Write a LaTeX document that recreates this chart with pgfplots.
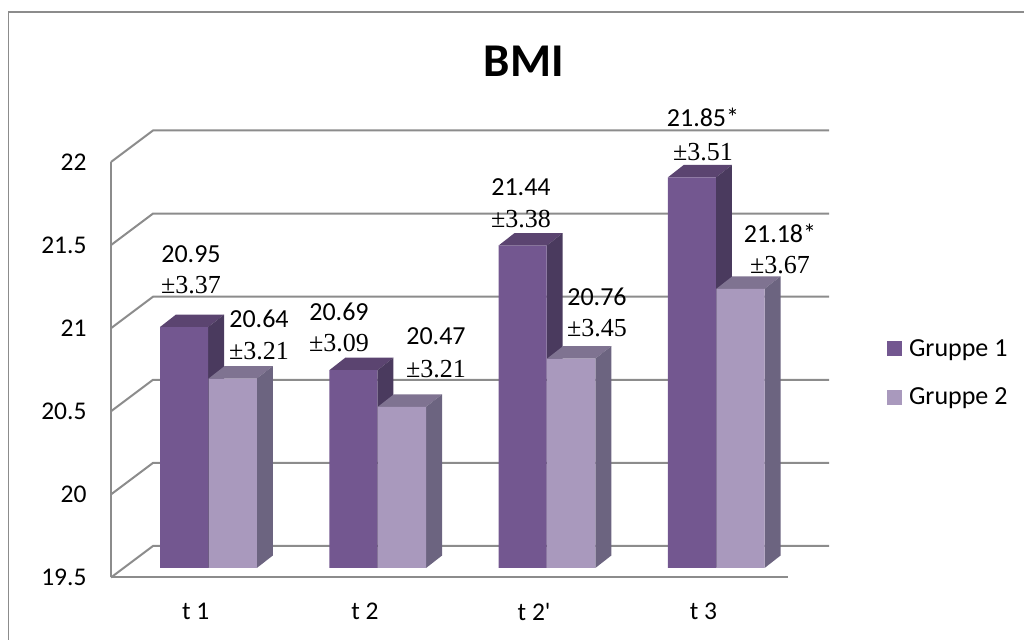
\documentclass[border=0pt]{standalone}
\usepackage{pgfplots}
\pgfplotsset{compat=1.18}
\usepackage{fontspec}
\setmainfont{Carlito}
\newfontfamily\timesf{Liberation Serif}

\definecolor{gonefront}{HTML}{735790}
\definecolor{gonetop}{HTML}{5B4470}
\definecolor{goneside}{HTML}{4A3A5E}
\definecolor{gtwofront}{HTML}{A999BD}
\definecolor{gtwotop}{HTML}{7F7391}
\definecolor{gtwoside}{HTML}{6C6480}
\definecolor{gridgrey}{HTML}{8C8C8C}

% 1px = 1pt; depth of the bars: 16px right, 12.5px up
\pgfmathsetmacro{\dx}{16/169.25}
\pgfmathsetmacro{\dy}{12.5/166.2}
\pgfmathsetmacro{\barw}{48.2/169.25}
\pgfmathsetmacro{\wx}{42/169.25}
\pgfmathsetmacro{\wy}{31.5/166.2}

% top and side face of one bar: category, offset of left edge, value, colours
\newcommand{\faces}[5]{%
  \pgfmathsetmacro{\xa}{#1+#2/169.25}%
  \pgfmathsetmacro{\xb}{\xa+\barw}%
  \pgfmathsetmacro{\xc}{\xa+\dx}%
  \pgfmathsetmacro{\xd}{\xb+\dx}%
  \pgfmathsetmacro{\yt}{#3+\dy}%
  \pgfmathsetmacro{\yb}{19.5+\dy}%
  \edef\temp{\noexpand\addplot[forget plot,fill=#4,draw=none,yshift=9.5pt]
    coordinates {(\xa,#3) (\xb,#3) (\xd,\yt) (\xc,\yt)} -- cycle;
    \noexpand\addplot[forget plot,fill=#5,draw=none,yshift=9.5pt]
    coordinates {(\xb,#3) (\xd,\yt) (\xd,\yb) (\xb,19.5)} -- cycle;}%
  \temp}

% back wall line and left wall diagonal for one y level
\newcommand{\wall}[1]{%
  \pgfmathsetmacro{\yw}{#1+\wy}%
  \pgfmathsetmacro{\xw}{-0.5+\wx}%
  \pgfmathsetmacro{\xe}{3.5+41/169.25}%
  \edef\temp{\noexpand\addplot[forget plot,gridgrey,line width=2pt]
    coordinates {(-0.5,#1) (\xw,\yw) (\xe,\yw)};}%
  \temp}

\begin{document}
\begin{tikzpicture}
\path[use as bounding box] (0,0) rectangle (1024pt,639pt);
\draw[gridgrey,line width=1.5pt] (8.5pt,-5pt) -- (8.5pt,627pt) -- (1030pt,627pt);

\begin{axis}[
  at={(111pt,61.5pt)},
  anchor=south west,
  scale only axis,
  width=677pt,
  height=415.5pt,
  clip=false,
  xmin=-0.5, xmax=3.5,
  ymin=19.5, ymax=22,
  axis x line=bottom,
  axis y line=left,
  axis line style={gridgrey,line width=2pt,-},
  xtick={0,1,2,3},
  xticklabels={t 1,t 2,t 2\textquotesingle,t 3},
  ytick={19.5,20,20.5,21,21.5,22},
  yticklabels={19.5,20,20.5,21,21.5,22},
  major tick length=0pt,
  tick label style={font=\fontsize{25.5}{30}\selectfont},
  yticklabel style={xshift=-21pt},
  xticklabel style={yshift=-22pt},
  title={BMI},
  title style={at={(0.61,1)},anchor=center,yshift=95pt,font=\fontsize{47}{54}\selectfont\bfseries},
  legend style={at={(1.146,0.493)},anchor=west,draw=none,inner sep=0pt,
    font=\fontsize{26}{30}\selectfont,row sep=26pt,
    /tikz/column 1/.style={column sep=5pt}},
]

\wall{19.5}
\wall{20}
\wall{20.5}
\wall{21}
\wall{21.5}
\wall{22}

\faces{0}{-35.6}{20.95}{gonetop}{goneside}
\faces{1}{-35.6}{20.69}{gonetop}{goneside}
\faces{2}{-35.6}{21.44}{gonetop}{goneside}
\faces{3}{-35.6}{21.85}{gonetop}{goneside}

\addplot[ybar,bar width=48.2pt,bar shift=-11.5pt,fill=gonefront,draw=none,yshift=9.5pt,
  legend image code/.code={\fill[gonefront] (0pt,-17.5pt) rectangle (15pt,-2.5pt);}]
  coordinates {(0,20.95) (1,20.69) (2,21.44) (3,21.85)};
\addlegendentry{Gruppe 1}

\faces{0}{13}{20.64}{gtwotop}{gtwoside}
\faces{1}{13}{20.47}{gtwotop}{gtwoside}
\faces{2}{13}{20.76}{gtwotop}{gtwoside}
\faces{3}{13}{21.18}{gtwotop}{gtwoside}

\addplot[ybar,bar width=48.2pt,bar shift=37.1pt,fill=gtwofront,draw=none,yshift=9.5pt,
  legend image code/.code={\fill[gtwofront] (0pt,-17.5pt) rectangle (15pt,-2.5pt);}]
  coordinates {(0,20.64) (1,20.47) (2,20.76) (3,21.18)};
\addlegendentry{Gruppe 2}
\end{axis}

% value labels, positions in picture pixels (y from the bottom)
\newcommand{\lab}[5]{%
  \node[font=\fontsize{26}{30}\selectfont,inner sep=0pt] at (#1pt,{(639-#2)*1pt}) {#3};
  \node[font=\fontsize{26}{30}\selectfont\timesf,inner sep=0pt] at (#1pt,{(639-#4)*1pt}) {±#5};}
\lab{191}{254}{20.95}{285}{3.37}
\lab{259}{319}{20.64}{351}{3.21}
\lab{339}{312}{20.69}{343}{3.09}
\lab{436}{336}{20.47}{369}{3.21}
\lab{521}{187}{21.44}{219}{3.38}
\lab{597}{297}{20.76}{328}{3.45}
\lab{703}{117}{21.85*}{152}{3.51}
\lab{780}{233}{21.18*}{265}{3.67}
\end{tikzpicture}
\end{document}
